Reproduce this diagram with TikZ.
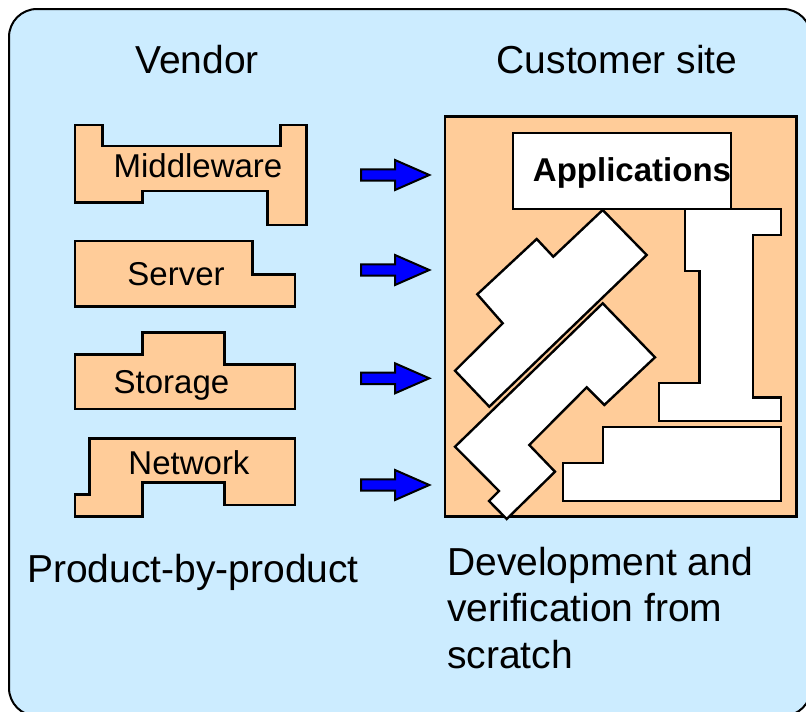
\documentclass[tikz,border=0pt]{standalone}
\usepackage{fontspec}
\setmainfont{Liberation Sans}
\usepackage{xcolor}
\usepackage{tikz}
\usetikzlibrary{calc}
\definecolor{skyback}{RGB}{204,236,255}
\definecolor{partfill}{RGB}{255,204,153}

\begin{document}
\begin{tikzpicture}[x=1pt,y=-1pt,line join=miter,
    part/.style={draw=black,line width=2.7pt,fill=partfill},
    piece/.style={draw=black,line width=2.4pt,fill=white},
    blockarrow/.style={draw=black,line width=2pt,fill=blue},
    big/.style={font=\fontsize{39}{46.5}\selectfont,inner sep=0pt},
    small/.style={font=\fontsize{33}{38}\selectfont,inner sep=0pt}]
    \useasboundingbox (0,0) rectangle (806,712);
    \clip (0,0) rectangle (806,712);
    % background panel
    \draw[fill=skyback,line width=2pt,rounded corners=28pt] (9,9) rectangle (811,716);
    % column titles
    \node[big,anchor=base] (vendor) at (197,73) {Vendor};
    \node[big,anchor=base] (customer) at (617,73) {Customer site};
    % vendor products, one piece each
    \draw[part] (75,125) -- (102.7,125) -- (102.7,146) -- (280.7,146) -- (280.7,125) -- (306.7,125)
        -- (306.7,225) -- (267.3,225) -- (267.3,191) -- (142.7,191) -- (142.7,202.7) -- (75,202.7) -- cycle;
    \draw[part] (75,241) -- (252.7,241) -- (252.7,274.3) -- (295,274.3) -- (295,306.7) -- (75,306.7) -- cycle;
    \draw[part] (75,354.3) -- (142.7,354.3) -- (142.7,332.7) -- (224.3,332.7) -- (224.3,364.3) -- (295,364.3)
        -- (295,409) -- (75,409) -- cycle;
    \draw[part] (89.3,438.3) -- (295,438.3) -- (295,505) -- (224.3,505) -- (224.3,482.7) -- (142.7,482.7)
        -- (142.7,516.7) -- (75,516.7) -- (75,494.3) -- (89.3,494.3) -- cycle;
    \node[small,anchor=base] (middleware) at (198,177) {Middleware};
    \node[small,anchor=base] (server) at (176,285) {Server};
    \node[small,anchor=base] (storage) at (171.5,393) {Storage};
    \node[small,anchor=base] (network) at (189,474) {Network};
    % block arrows towards the site
    \foreach \y in {175,270,378.3,485}
      \draw[blockarrow] (361,\y-5.7) -- (395,\y-5.7) -- (395,\y-15) -- (429.3,\y) -- (395,\y+15)
          -- (395,\y+5.7) -- (361,\y+5.7) -- cycle;
    % customer site, pieces fitted by hand
    \draw[part] (445,116.7) rectangle (796.7,516.7);
    \draw[piece] (512.7,132.7) rectangle (731,209);
    \node[small,font=\fontsize{33}{38}\selectfont\bfseries,anchor=base] (apps) at (632,181.7) {Applications};
    \draw[piece] (685,209) -- (780.7,209) -- (780.7,235) -- (752.7,235) -- (752.7,397.3) -- (780.7,397.3)
        -- (780.7,420.7) -- (658.7,420.7) -- (658.7,382.7) -- (699.3,382.7) -- (699.3,271) -- (685,271) -- cycle;
    \draw[piece] (602.7,427) -- (780.7,427) -- (780.7,500.7) -- (562.7,500.7) -- (562.7,463) -- (602.7,463) -- cycle;
    \draw[piece] (602.7,210) -- (646.7,255) -- (489.3,406.7) -- (455,370.7) -- (502.7,323.3) -- (477.3,294.3)
        -- (536.7,239) -- (553.3,256.7) -- cycle;
    \draw[piece] (602.7,303.3) -- (655,357.3) -- (604.3,405) -- (586.7,387.3) -- (529.3,445) -- (555,471.7)
        -- (506.7,519) -- (489,501) -- (499,491) -- (455,446.7) -- cycle;
    % captions
    \node[big,anchor=base west] (caption1) at (27,582) {Product-by-product};
    \node[big,anchor=base west,align=left] (caption2) at (447,668) {Development and\\verification from\\scratch};
\end{tikzpicture}
\end{document}
